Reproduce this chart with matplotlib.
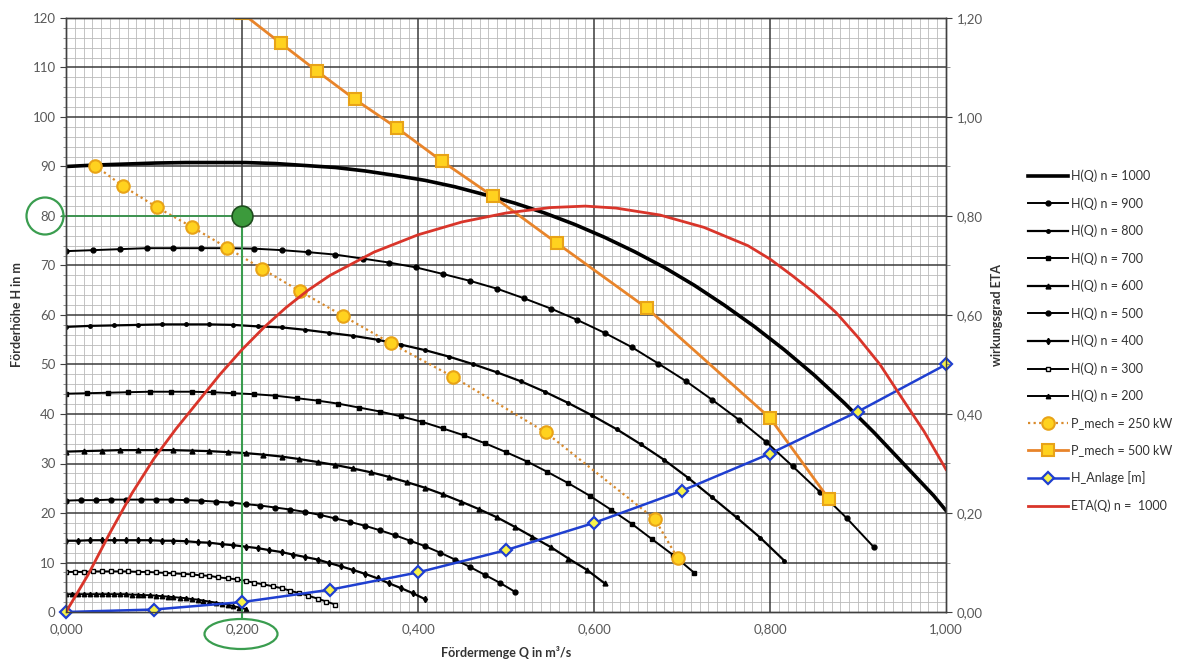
import matplotlib
matplotlib.use("Agg")
import matplotlib.pyplot as plt
from matplotlib.ticker import MultipleLocator, FixedLocator, FuncFormatter
from matplotlib.patches import Ellipse

plt.rcParams['font.family'] = ['Lato', 'DejaVu Sans']

# pump curves H(Q) for different speeds n
Q_1000 = [0.000, 0.034, 0.068, 0.102, 0.136, 0.170, 0.204, 0.238, 0.272, 0.306, 0.340,
          0.374, 0.408, 0.442, 0.476, 0.510, 0.544, 0.578, 0.612, 0.646, 0.680, 0.714,
          0.748, 0.782, 0.816, 0.850, 0.884, 0.918, 0.952, 0.986, 1.020]
H_1000 = [90.0, 90.3, 90.5, 90.7, 90.8, 90.8, 90.8, 90.6, 90.2, 89.8, 89.1, 88.2, 87.2,
          85.9, 84.3, 82.6, 80.6, 78.3, 75.7, 72.8, 69.6, 66.0, 62.0, 57.7, 53.0, 47.9,
          42.3, 36.3, 29.9, 23.5, 16.2]

Q_900 = [0.000, 0.031, 0.061, 0.092, 0.122, 0.153, 0.184, 0.214, 0.245, 0.275, 0.306,
         0.337, 0.367, 0.398, 0.428, 0.459, 0.490, 0.520, 0.551, 0.581, 0.612, 0.643,
         0.673, 0.704, 0.734, 0.765, 0.796, 0.826, 0.857, 0.887, 0.918]
H_900 = [72.9, 73.1, 73.3, 73.5, 73.5, 73.5, 73.5, 73.4, 73.1, 72.7, 72.2, 71.4, 70.6,
         69.6, 68.3, 66.9, 65.3, 63.4, 61.3, 59.0, 56.4, 53.5, 50.2, 46.7, 42.9, 38.8,
         34.3, 29.4, 24.2, 19.0, 13.1]

Q_800 = [0.000, 0.027, 0.054, 0.082, 0.109, 0.136, 0.163, 0.190, 0.218, 0.245, 0.272,
         0.299, 0.326, 0.354, 0.381, 0.408, 0.435, 0.462, 0.490, 0.517, 0.544, 0.571,
         0.598, 0.626, 0.653, 0.680, 0.707, 0.734, 0.762, 0.789, 0.816]
H_800 = [57.6, 57.8, 57.9, 58.0, 58.1, 58.1, 58.1, 58.0, 57.7, 57.5, 57.0, 56.4, 55.8,
         55.0, 54.0, 52.9, 51.6, 50.1, 48.4, 46.6, 44.5, 42.2, 39.7, 36.9, 33.9, 30.7,
         27.1, 23.2, 19.1, 15.0, 10.4]

Q_700 = [0.000, 0.024, 0.048, 0.071, 0.095, 0.119, 0.143, 0.167, 0.190, 0.214, 0.238,
         0.262, 0.286, 0.309, 0.333, 0.357, 0.381, 0.405, 0.428, 0.452, 0.476, 0.500,
         0.524, 0.547, 0.571, 0.595, 0.619, 0.643, 0.666, 0.690, 0.714]
H_700 = [44.1, 44.2, 44.3, 44.4, 44.5, 44.5, 44.5, 44.4, 44.2, 44.0, 43.7, 43.2, 42.7,
         42.1, 41.3, 40.5, 39.5, 38.4, 37.1, 35.7, 34.1, 32.3, 30.4, 28.3, 26.0, 23.5,
         20.7, 17.8, 14.7, 11.5, 7.9]

Q_600 = [0.000, 0.020, 0.041, 0.061, 0.082, 0.102, 0.122, 0.143, 0.163, 0.184, 0.204,
         0.224, 0.245, 0.265, 0.286, 0.306, 0.326, 0.347, 0.367, 0.388, 0.408, 0.428,
         0.449, 0.469, 0.490, 0.510, 0.530, 0.551, 0.571, 0.592, 0.612]
H_600 = [32.4, 32.5, 32.6, 32.7, 32.7, 32.7, 32.7, 32.6, 32.5, 32.3, 32.1, 31.8, 31.4,
         30.9, 30.3, 29.7, 29.0, 28.2, 27.3, 26.2, 25.1, 23.8, 22.3, 20.8, 19.1, 17.2,
         15.2, 13.1, 10.8, 8.5, 5.8]

Q_500 = [0.000, 0.017, 0.034, 0.051, 0.068, 0.085, 0.102, 0.119, 0.136, 0.153, 0.170,
         0.187, 0.204, 0.221, 0.238, 0.255, 0.272, 0.289, 0.306, 0.323, 0.340, 0.357,
         0.374, 0.391, 0.408, 0.425, 0.442, 0.459, 0.476, 0.493, 0.510]
H_500 = [22.5, 22.6, 22.6, 22.7, 22.7, 22.7, 22.7, 22.7, 22.6, 22.5, 22.3, 22.1, 21.8,
         21.5, 21.1, 20.7, 20.2, 19.6, 18.9, 18.2, 17.4, 16.5, 15.5, 14.4, 13.3, 12.0,
         10.6, 9.1, 7.5, 5.9, 4.1]

Q_400 = [0.000, 0.014, 0.027, 0.041, 0.054, 0.068, 0.082, 0.095, 0.109, 0.122, 0.136,
         0.150, 0.163, 0.177, 0.190, 0.204, 0.218, 0.231, 0.245, 0.258, 0.272, 0.286,
         0.299, 0.313, 0.326, 0.340, 0.354, 0.367, 0.381, 0.394, 0.408]
H_400 = [14.4, 14.4, 14.5, 14.5, 14.5, 14.5, 14.5, 14.5, 14.4, 14.4, 14.3, 14.1, 14.0,
         13.7, 13.5, 13.2, 12.9, 12.5, 12.1, 11.6, 11.1, 10.6, 9.9, 9.2, 8.5, 7.7,
         6.8, 5.8, 4.8, 3.8, 2.6]

Q_300 = [0.000, 0.010, 0.020, 0.031, 0.041, 0.051, 0.061, 0.071, 0.082, 0.092, 0.102,
         0.112, 0.122, 0.133, 0.143, 0.153, 0.163, 0.173, 0.184, 0.194, 0.204, 0.214,
         0.224, 0.235, 0.245, 0.255, 0.265, 0.275, 0.286, 0.296, 0.306]
H_300 = [8.1, 8.1, 8.1, 8.2, 8.2, 8.2, 8.2, 8.2, 8.1, 8.1, 8.0, 7.9, 7.8, 7.7, 7.6,
         7.4, 7.3, 7.0, 6.8, 6.6, 6.3, 5.9, 5.6, 5.2, 4.8, 4.3, 3.8, 3.3, 2.7, 2.1, 1.5]

Q_200 = [0.000, 0.007, 0.014, 0.020, 0.027, 0.034, 0.041, 0.048, 0.054, 0.061, 0.068,
         0.075, 0.082, 0.088, 0.095, 0.102, 0.109, 0.116, 0.122, 0.129, 0.136, 0.143,
         0.150, 0.156, 0.163, 0.170, 0.177, 0.184, 0.190, 0.197, 0.204]
H_200 = [3.6, 3.6, 3.6, 3.6, 3.6, 3.6, 3.6, 3.6, 3.6, 3.6, 3.6, 3.5, 3.5, 3.4, 3.4,
         3.3, 3.2, 3.1, 3.0, 2.9, 2.8, 2.6, 2.5, 2.3, 2.1, 1.9, 1.7, 1.5, 1.2, 0.9, 0.6]

# lines of constant mechanical power
Q_P250 = [0.033, 0.065, 0.103, 0.143, 0.183, 0.223, 0.266, 0.315, 0.369, 0.440, 0.545, 0.669, 0.695]
H_P250 = [90.2, 86.0, 81.8, 77.8, 73.6, 69.3, 64.8, 59.8, 54.3, 47.5, 36.3, 18.8, 10.9]

Q_P500 = [0.200, 0.244, 0.285, 0.328, 0.376, 0.427, 0.485, 0.558, 0.660, 0.800, 0.867]
H_P500 = [121.0, 114.9, 109.3, 103.6, 97.8, 91.1, 84.0, 74.5, 61.4, 39.2, 22.8]

# system curve
Q_ANL = [0.0, 0.1, 0.2, 0.3, 0.4, 0.5, 0.6, 0.7, 0.8, 0.9, 1.0]
H_ANL = [0.0, 0.5, 2.0, 4.5, 8.0, 12.5, 18.0, 24.5, 32.0, 40.5, 50.0]

# efficiency at n = 1000 (right axis)
Q_ETA = [0.000, 0.025, 0.050, 0.075, 0.100, 0.125, 0.150, 0.175, 0.200, 0.225, 0.250,
         0.275, 0.300, 0.350, 0.400, 0.450, 0.500, 0.550, 0.590, 0.625, 0.675, 0.725,
         0.775, 0.800, 0.825, 0.850, 0.875, 0.900, 0.925, 0.950, 0.975, 1.000]
ETA = [0.000, 0.075, 0.160, 0.240, 0.310, 0.370, 0.425, 0.480, 0.530, 0.575, 0.615,
       0.650, 0.680, 0.727, 0.762, 0.788, 0.806, 0.817, 0.820, 0.816, 0.802, 0.777,
       0.740, 0.713, 0.680, 0.645, 0.605, 0.555, 0.500, 0.432, 0.365, 0.288]

# operating point
OP_Q = 0.2
OP_H = 80

GREEN = '#3a9d4f'
TICK_COLOR = '#595959'


def comma_fmt(decimals):
    return FuncFormatter(lambda v, pos: f"{v:.{decimals}f}".replace('.', ','))


def draw_chart():
    fig = plt.figure(figsize=(11.93, 6.63), dpi=100)
    ax = fig.add_axes([66 / 1193, 51 / 663, 880 / 1193, 594 / 663])
    ax2 = ax.twinx()

    ax.set_xlim(0, 1.0)
    ax.set_ylim(0, 120)
    ax2.set_ylim(0, 1.2)

    ax.xaxis.set_major_locator(MultipleLocator(0.2))
    # minor grid every 0.01, skipping the positions of the major lines
    ax.xaxis.set_minor_locator(FixedLocator([i / 100 for i in range(101) if i % 20]))
    ax.yaxis.set_major_locator(MultipleLocator(10))
    ax.yaxis.set_minor_locator(FixedLocator([i for i in range(0, 121, 2) if i % 10]))
    ax2.yaxis.set_major_locator(MultipleLocator(0.2))
    ax2.yaxis.set_minor_locator(MultipleLocator(0.1))

    ax.xaxis.set_major_formatter(comma_fmt(3))
    ax2.yaxis.set_major_formatter(comma_fmt(2))

    # light minor grid from the axis, dark major lines on top of it
    ax.grid(which='minor', color='#bababa', linewidth=0.6)
    ax.set_axisbelow(True)
    for x in ax.get_xticks():
        if 0 < x < 1.0:
            ax.axvline(x, color='#3a3a3a', lw=1.1, zorder=1)
    for y in ax.get_yticks():
        if 0 < y < 120:
            ax.axhline(y, color='#3a3a3a', lw=1.1, zorder=1)

    ax.tick_params(which='major', colors='#404040', labelcolor=TICK_COLOR, labelsize=9.5, length=4)
    ax.tick_params(axis='x', which='major', length=0, pad=8)
    ax.tick_params(axis='x', which='minor', length=0)
    ax.tick_params(axis='y', which='minor', length=2.5, colors='#808080')
    ax2.tick_params(which='major', colors='#404040', labelcolor=TICK_COLOR, labelsize=9.5, length=4)
    ax2.tick_params(which='minor', length=3, colors='#808080')

    for a in (ax, ax2):
        for s in a.spines.values():
            s.set_color('#404040')
            s.set_linewidth(1.0)

    curves = [
        ('H(Q) n = 1000', Q_1000, H_1000, dict(lw=2.6, marker=None)),
        ('H(Q) n = 900', Q_900, H_900, dict(lw=1.4, marker='o', ms=3.5)),
        ('H(Q) n = 800', Q_800, H_800, dict(lw=1.6, marker='o', ms=2.5)),
        ('H(Q) n = 700', Q_700, H_700, dict(lw=1.4, marker='s', ms=3.5)),
        ('H(Q) n = 600', Q_600, H_600, dict(lw=1.6, marker='^', ms=3.5)),
        ('H(Q) n = 500', Q_500, H_500, dict(lw=1.4, marker='o', ms=3.5)),
        ('H(Q) n = 400', Q_400, H_400, dict(lw=1.6, marker='d', ms=3.2)),
        ('H(Q) n = 300', Q_300, H_300, dict(lw=1.4, marker='s', ms=3.5, mfc='white')),
        ('H(Q) n = 200', Q_200, H_200, dict(lw=1.4, marker='^', ms=3.2)),
    ]
    for label, q, h, style in curves:
        ax.plot(q, h, color='black', mec='black', label=label, zorder=2, **style)

    ax.plot(Q_P250, H_P250, color='#d98a2b', lw=1.6, ls=(0, (1, 1.5)), marker='o', ms=9,
            mfc='#ffd21f', mec='#e8a317', mew=1.5, label='P_mech = 250 kW', zorder=3)
    ax.plot(Q_P500, H_P500, color='#e8842a', lw=2.0, marker='s', ms=9,
            mfc='#ffd21f', mec='#e8a317', mew=1.5, label='P_mech = 500 kW', zorder=3)
    ax.plot(Q_ANL, H_ANL, color='#1f3fd0', lw=1.8, marker='D', ms=6.5,
            mfc='#f6f24a', mec='#1f3fd0', mew=1.6, label='H_Anlage [m]', clip_on=False, zorder=4)

    ax2.plot(Q_ETA, ETA, color='#d9352a', lw=2.0, label='ETA(Q) n =  1000')

    # operating point with guide lines
    ax.plot([-0.004, OP_Q], [OP_H, OP_H], color=GREEN, lw=1.2, clip_on=False, zorder=3)
    ax.plot([OP_Q, OP_Q], [OP_H, -1.2], color=GREEN, lw=1.5, clip_on=False, zorder=3)
    ax.plot([OP_Q], [OP_H], marker='o', ms=15, mfc='#3c9a3c', mec='#1e4e1e', mew=1.2,
            ls='none', zorder=6)

    fig.add_artist(Ellipse((45 / 1193, 1 - 216 / 663), 37 / 1193, 37 / 663,
                           transform=fig.transFigure, fill=False, ec=GREEN, lw=1.6))
    fig.add_artist(Ellipse((241 / 1193, 1 - 634 / 663), 73 / 1193, 30 / 663,
                           transform=fig.transFigure, fill=False, ec=GREEN, lw=1.6))

    ax.set_xlabel('Fördermenge Q in m³/s', fontsize=9, fontweight='bold', color='#333333', labelpad=8)
    ax.set_ylabel('Förderhöhe H in m', fontsize=9, fontweight='bold', color='#333333', labelpad=7)
    ax2.set_ylabel('wirkungsgrad ETA', fontsize=9, fontweight='bold', color='#333333', labelpad=6)

    h1, l1 = ax.get_legend_handles_labels()
    h2, l2 = ax2.get_legend_handles_labels()
    fig.legend(h1 + h2, l1 + l2, loc='center left', bbox_to_anchor=(0.862, 0.486),
               frameon=False, fontsize=9, handlelength=3.2, handletextpad=0.25,
               labelspacing=1.2, borderaxespad=0, borderpad=0, labelcolor='#333333')

    fig.savefig('out.png', dpi=100)
    plt.close(fig)


if __name__ == "__main__":
    draw_chart()
